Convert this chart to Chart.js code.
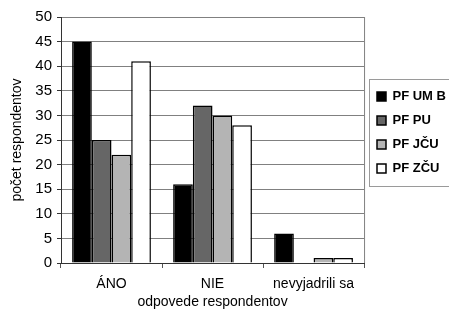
<!DOCTYPE html>
<html lang="sk">
<head>
  <meta charset="UTF-8">
  <title>Odpovede respondentov</title>
  <script src="https://cdn.jsdelivr.net/npm/chart.js@4.4.1/dist/chart.umd.min.js"></script>
  <style>
    html, body { margin: 0; padding: 0; background: #fff; }
    #wrap { width: 449px; height: 313px; }
  </style>
</head>
<body>
  <div id="wrap"><canvas id="chart" width="449" height="313"></canvas></div>
  <script>
    const categories = ['ÁNO', 'NIE', 'nevyjadrili sa'];
    const seriesNames = ['PF UM B', 'PF PU', 'PF JČU', 'PF ZČU'];
    const pfUmb = [45, 16, 6];
    const pfPu  = [25, 32, 0];
    const pfJcu = [22, 30, 1];
    const pfZcu = [41, 28, 1];
    const colors = ['#000000', '#666666', '#b4b4b4', '#ffffff'];

    const FONT = "'Liberation Sans', Arial, sans-serif";

    // put the legend where the original has it, next to the plot
    const legendPlace = {
      id: 'legendPlace',
      afterLayout(chart) {
        const l = chart.legend;
        const h = l.bottom - l.top, w = l.right - l.left;
        l.top = 79; l.bottom = 79 + h;
        l.left = 366; l.right = 366 + w;
      },
      afterDraw(chart) {
        const { ctx, chartArea: a } = chart;
        ctx.save();
        ctx.strokeStyle = '#808080';
        ctx.lineWidth = 1;
        ctx.beginPath();
        ctx.moveTo(a.right + 0.5, a.top);
        ctx.lineTo(a.right + 0.5, a.bottom);
        ctx.stroke();
        ctx.strokeStyle = '#9a9a9a';
        ctx.strokeRect(369.5, 79.5, 85, 107);
        ctx.restore();
      }
    };

    new Chart(document.getElementById('chart'), {
      type: 'bar',
      data: {
        labels: categories,
        datasets: [pfUmb, pfPu, pfJcu, pfZcu].map((d, i) => ({
          label: seriesNames[i],
          data: d,
          backgroundColor: colors[i],
          borderColor: '#000',
          borderWidth: 1.5,
          categoryPercentage: 0.78,
          barPercentage: 1
        }))
      },
      options: {
        responsive: false,
        animation: false,
        layout: { padding: { top: 17, right: -5, left: 0, bottom: 2 } },
        plugins: {
          legend: {
            position: 'right',
            align: 'start',
            fullSize: false,
            labels: {
              color: '#000',
              font: { family: FONT, size: 13, weight: 'bold' },
              boxWidth: 9,
              boxHeight: 9,
              padding: 11
            }
          },
          tooltip: { enabled: false }
        },
        scales: {
          x: {
            afterFit: s => { s.height = 48; },
            grid: { drawOnChartArea: false, drawTicks: true, tickLength: 5, color: '#555' },
            border: { color: '#333', width: 1 },
            ticks: { color: '#000', font: { family: FONT, size: 14 }, padding: 8 },
            title: { display: true, text: 'odpovede respondentov', color: '#000',
                     font: { family: FONT, size: 14 }, padding: { top: 0, bottom: 0 } }
          },
          y: {
            min: 0, max: 50,
            afterFit: s => { s.width = 61; },
            ticks: { stepSize: 5, color: '#000', font: { family: FONT, size: 15 }, padding: 5 },
            grid: { color: '#808080', lineWidth: 1, tickLength: 4, tickColor: '#333' },
            border: { color: '#333', width: 1 },
            title: { display: true, text: 'počet respondentov', color: '#000',
                     font: { family: FONT, size: 14 }, padding: { top: 9, bottom: 0 } }
          }
        }
      },
      plugins: [legendPlace]
    });
  </script>
</body>
</html>
